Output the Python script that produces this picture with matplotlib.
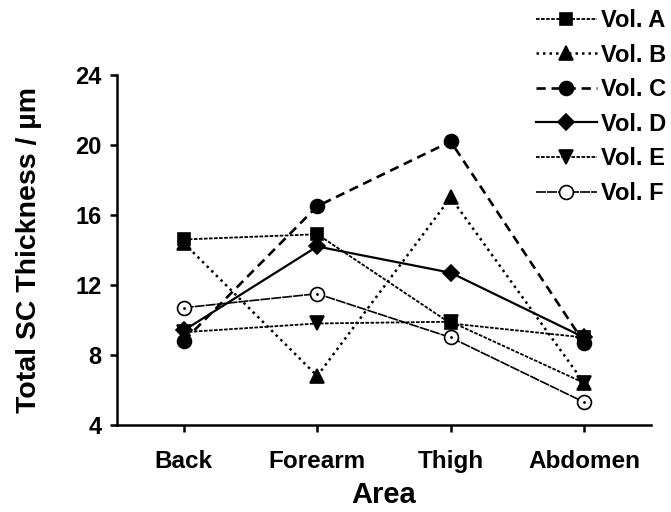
import matplotlib
matplotlib.use("Agg")
import matplotlib.pyplot as plt
from matplotlib import font_manager

# data
areas = ["Back", "Forearm", "Thigh", "Abdomen"]
vol_a = [14.6, 14.9, 9.8, 9.0]
vol_b = [14.4, 6.8, 17.0, 6.4]
vol_c = [8.8, 16.5, 20.2, 8.7]
vol_d = [9.4, 14.2, 12.7, 9.0]
vol_e = [9.3, 9.8, 9.9, 6.4]
vol_f = [10.7, 11.5, 9.0, 5.3]
labels = ["Vol. A", "Vol. B", "Vol. C", "Vol. D", "Vol. E", "Vol. F"]
yticks = [4, 8, 12, 16, 20, 24]

names = {f.name for f in font_manager.fontManager.ttflist}
fam = "Liberation Sans Narrow" if "Liberation Sans Narrow" in names else "Liberation Sans"
plt.rcParams["font.family"] = [fam, "DejaVu Sans"]
plt.rcParams["font.weight"] = "bold"

fig = plt.figure(figsize=(6.71, 5.12), dpi=100)
ax = fig.add_axes([0.1744, 0.170, 0.7956, 0.6835])

x = range(len(areas))
series = [vol_a, vol_b, vol_c, vol_d, vol_e, vol_f]
styles = [
    dict(marker="s", ms=9, mfc="k", ls=(0, (2, 0.8)), lw=1.3),
    dict(marker="^", ms=10, mfc="k", ls=(0, (1, 1.6)), lw=1.8),
    dict(marker="o", ms=10, mfc="k", ls=(0, (3.5, 2.2)), lw=1.9),
    dict(marker="D", ms=8, mfc="k", ls="-", lw=1.6),
    dict(marker="v", ms=10, mfc="k", ls=(0, (2, 0.8)), lw=1.3),
    dict(marker="o", ms=10, mfc="white", ls=(0, (6, 0.6)), lw=1.2),
]
for vals, lab, st in zip(series, labels, styles):
    ax.plot(x, vals, color="k", mec="k", mew=1.2, label=lab, **st)
# little dot inside the open circles of Vol. F
ax.plot(x, vol_f, ls="none", marker=".", ms=2, color="k")

ax.set_xlim(-0.5, 3.5)
ax.set_ylim(4, 24)
ax.set_yticks(yticks)
ax.set_xticks(list(x))
ax.set_xticklabels(areas)
ax.spines["top"].set_visible(False)
ax.spines["right"].set_visible(False)
for s in ["left", "bottom"]:
    ax.spines[s].set_linewidth(1.8)
ax.tick_params(direction="out", length=5, width=1.8, labelsize=17, pad=6)
ax.tick_params(axis="x", labelsize=17.5, pad=13)
for t in ax.get_xticklabels() + ax.get_yticklabels():
    t.set_fontweight("bold")

ax.set_xlabel("Area", fontsize=21, fontweight="bold", labelpad=6)
ax.set_ylabel("Total SC Thickness / µm", fontsize=20.5, fontweight="bold", labelpad=24)

leg = fig.legend(loc="upper right", bbox_to_anchor=(1.024, 1.024), frameon=False,
                 numpoints=1, handlelength=2.6, handletextpad=0.15,
                 labelspacing=0.49, prop=dict(family=[fam, "DejaVu Sans"], weight="bold", size=17))

fig.savefig("out.png", dpi=100)
